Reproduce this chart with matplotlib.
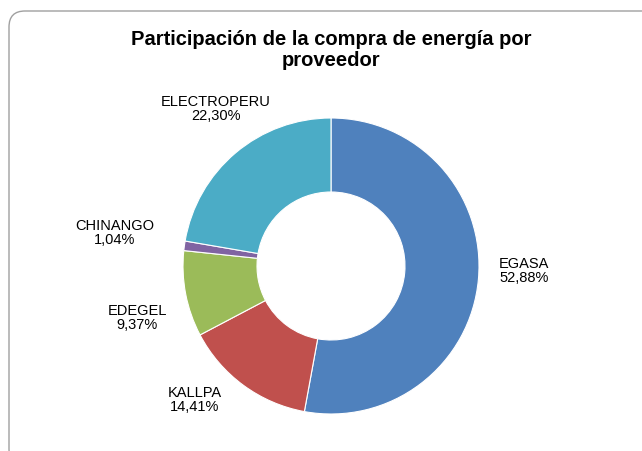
import matplotlib.pyplot as plt
from matplotlib.patches import FancyBboxPatch

plt.rcParams['font.family'] = ['Liberation Sans', 'DejaVu Sans']

# Datos del grafico
proveedores = ['EGASA', 'KALLPA', 'EDEGEL', 'CHINANGO', 'ELECTROPERU']
participacion = [52.88, 14.41, 9.37, 1.04, 22.30]
colores = ['#4F81BD', '#C0504D', '#9BBB59', '#8064A2', '#4BACC6']
titulo = 'Participación de la compra de energía por\nproveedor'

W, H = 642, 451
fig = plt.figure(figsize=(W / 100, H / 100), dpi=100)

# marco redondeado (borde del grafico de Excel), sale por la derecha y abajo
frame = FancyBboxPatch((0.09, (H - 465) / 100), 6.51, 4.54,
                       boxstyle='round,pad=0,rounding_size=0.16',
                       transform=fig.dpi_scale_trans, facecolor='none',
                       edgecolor='#A0A0A0', linewidth=1.0, zorder=-1)
fig.patches.append(frame)

# anillo centrado en (331, 266) px con radio 148 px
cx, cy, r = 331, H - 266, 148
ax = fig.add_axes([(cx - r) / W, (cy - r) / H, 2 * r / W, 2 * r / H])
ax.pie(participacion, colors=colores, startangle=90, counterclock=False,
       radius=1, wedgeprops=dict(width=0.5, edgecolor='white', linewidth=0.8))
ax.set_xlim(-1, 1)
ax.set_ylim(-1, 1)
ax.set_aspect('equal')
ax.axis('off')

fig.text(331 / W, 1 - 50 / H, titulo, ha='center', va='center',
         fontsize=14.5, fontweight='bold', linespacing=1.15)

# posiciones de etiquetas (px desde arriba) y alineacion
etiquetas = {
    'EGASA': (499, 271, 'left'),
    'KALLPA': (195, 400, 'center'),
    'EDEGEL': (137, 318, 'center'),
    'CHINANGO': (115, 233, 'center'),
    'ELECTROPERU': (216, 109, 'center'),
}
for nombre, valor in zip(proveedores, participacion):
    x, y, ha = etiquetas[nombre]
    txt = f'{nombre}\n{valor:.2f}%'.replace('.', ',')
    fig.text(x / W, 1 - y / H, txt, ha=ha, va='center', fontsize=10.5,
             multialignment=ha, linespacing=1.0, color='black')

fig.savefig('out.png', dpi=100)
